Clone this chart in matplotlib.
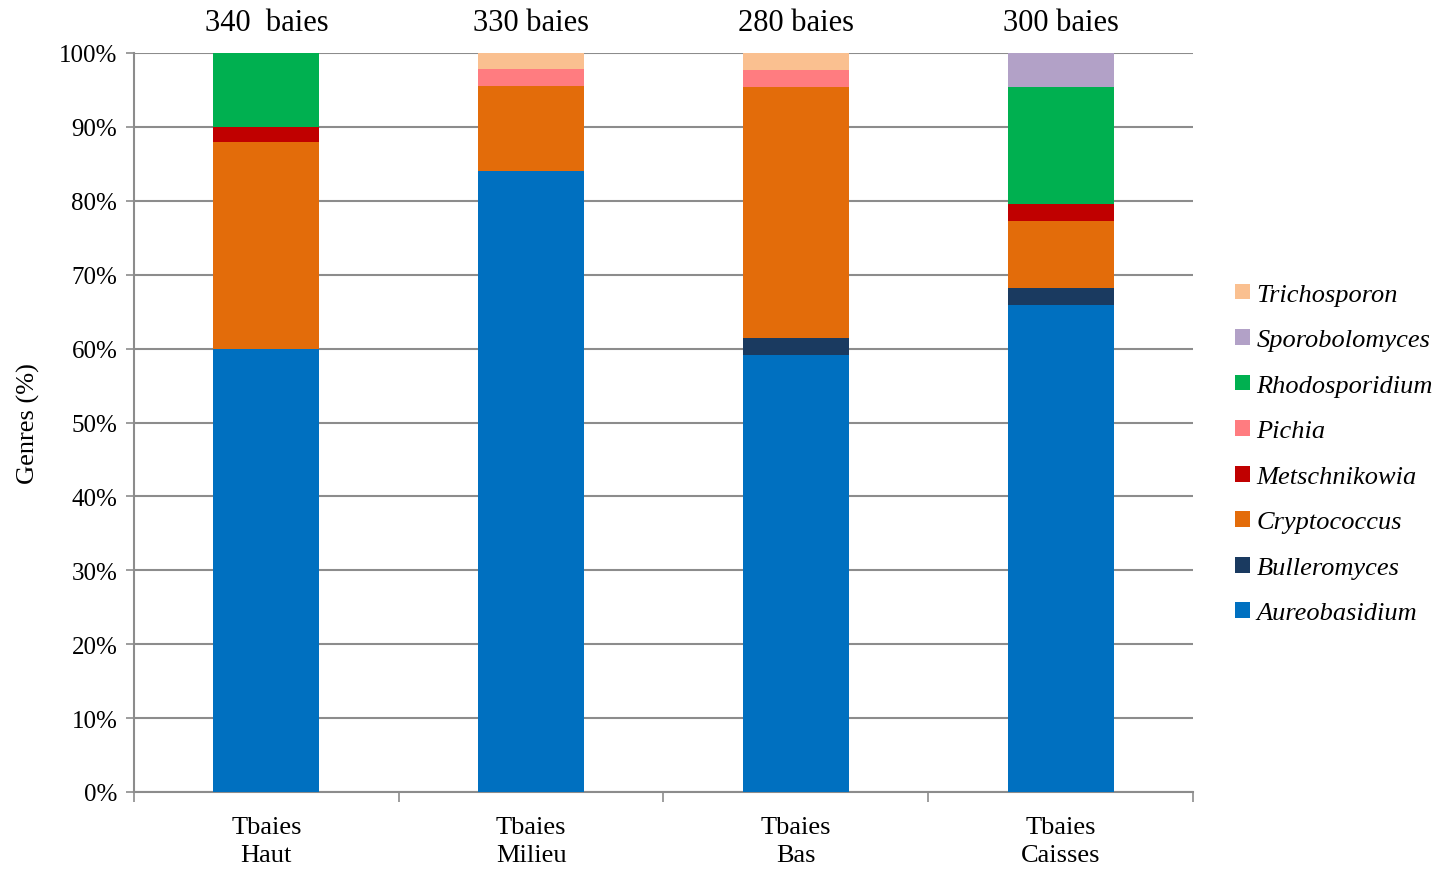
import numpy as np
import matplotlib
matplotlib.use("Agg")
import matplotlib.pyplot as plt
from matplotlib.patches import Patch

plt.rcParams['font.family'] = ['Liberation Serif', 'DejaVu Serif']

# ─── data ────────────────────────────────────────────────────────────────────
categories = ["Tbaies\nHaut", "Tbaies\nMilieu", "Tbaies\nBas", "Tbaies\nCaisses"]
top_labels = ["340  baies", "330 baies", "280 baies", "300 baies"]

genera = ["Aureobasidium", "Bulleromyces", "Cryptococcus", "Metschnikowia",
          "Pichia", "Rhodosporidium", "Sporobolomyces", "Trichosporon"]
colors = ["#0070C0", "#1A3A60", "#E36C0A", "#C00000",
          "#FF7C80", "#00B050", "#B2A1C7", "#FAC090"]

aureobasidium  = [60.0, 84.1, 59.1, 65.9]
bulleromyces   = [0.0, 0.0, 2.3, 2.3]
cryptococcus   = [28.0, 11.4, 34.0, 9.1]
metschnikowia  = [2.0, 0.0, 0.0, 2.2]
pichia         = [0.0, 2.3, 2.3, 0.0]
rhodosporidium = [10.0, 0.0, 0.0, 15.9]
sporobolomyces = [0.0, 0.0, 0.0, 4.6]
trichosporon   = [0.0, 2.2, 2.3, 0.0]

series = [aureobasidium, bulleromyces, cryptococcus, metschnikowia,
          pichia, rhodosporidium, sporobolomyces, trichosporon]

# ─── plot ────────────────────────────────────────────────────────────────────
fig = plt.figure(figsize=(14.39, 8.70), dpi=100)
ax = fig.add_axes([134 / 1439, 1 - 793 / 870, (1193 - 134) / 1439, (793 - 54) / 870])

x = np.arange(len(categories))
bottom = np.zeros(len(categories))
for vals, c in zip(series, colors):
    vals = np.array(vals)
    ax.bar(x, vals, bottom=bottom, width=0.4, color=c, zorder=3)
    bottom += vals

ax.set_xlim(-0.5, len(categories) - 0.5)
ax.set_ylim(0, 100)
ax.set_yticks(np.arange(0, 101, 10))
ax.set_yticklabels([f"{v}%" for v in range(0, 101, 10)], fontsize=18)
ax.yaxis.grid(True, color="#8c8c8c", linewidth=1.5, zorder=0)
ax.set_axisbelow(True)

ax.set_xticks(x)
ax.set_xticklabels(categories, fontsize=19, linespacing=1.4)
ax.tick_params(axis='x', length=0, pad=17)
ax.set_xticks(np.arange(-0.5, len(categories), 1.0), minor=True)
ax.tick_params(axis='x', which='minor', length=7, width=1.2, color="#8c8c8c", direction='out')
ax.tick_params(axis='y', length=6, width=1.2, color="#8c8c8c", direction='out', pad=6)

for side in ['top', 'right']:
    ax.spines[side].set_visible(False)
for side in ['left', 'bottom']:
    ax.spines[side].set_color("#8c8c8c")
    ax.spines[side].set_linewidth(1.5)

for xi, lab in zip(x, top_labels):
    ax.text(xi, 102.1, lab, ha='center', va='bottom', fontsize=22, clip_on=False)

ax.set_ylabel("Genres (%)", fontsize=19, labelpad=14)

handles = [Patch(facecolor=c, label=g) for g, c in zip(genera, colors)]
leg = fig.legend(handles[::-1], genera[::-1], loc='center left',
                 bbox_to_anchor=(1222 / 1439, 1 - 455 / 870),
                 frameon=False, prop={'style': 'italic', 'size': 19},
                 handlelength=0.55, handleheight=0.55, handletextpad=0.25,
                 labelspacing=0.88, borderpad=0)

fig.savefig("out.png", dpi=100)
